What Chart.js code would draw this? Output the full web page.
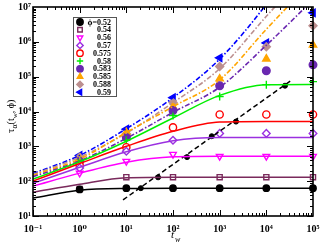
<!DOCTYPE html>
<html>
<head>
<meta charset="utf-8">
<script src="https://cdn.jsdelivr.net/npm/chart.js@4/dist/chart.umd.min.js"></script>
<style>
html, body { margin: 0; padding: 0; background: #fff; }
</style>
</head>
<body>
<canvas id="mychart" width="321" height="246"></canvas>
<script>
// measured tau_alpha at each waiting time
let twPts = [1, 10, 100, 1000, 10000, 100000];
let tau052 = [58, 63, 63, 63, 63, 63];
let tau054 = [60, 130, 130, 130, 130, 130];
let tau056 = [170, 372, 590, 520, 520, 520];
let tau057 = [240, 720, 1490, 2350, 2350, 2350];
let tau0575 = [285, 940, 3500, 8200, 8200, 8200];
let tau058 = [400, 1500, 7700, 27000, 59000, 72000];
let tau0583 = [370, 1800, 10700, 55000, 148000, 219000];
let tau0585 = [430, 2500, 13800, 87000, 324000, 813000];
let tau0588 = [490, 2300, 18000, 195000, 724000, 2900000];
let tau059 = [550, 3100, 25000, 347000, 933000, 6800000];

// solid fit curves
let fitTw = [0.1, 1, 10, 100, 1000, 10000, 100000];
let fit052 = [33, 55, 62, 63, 63, 63, 63];
let fit054 = [48, 82, 125, 130, 130, 130, 130];
let fit056 = [72, 170, 350, 500, 520, 520, 520];
let fit057 = [87, 250, 700, 1450, 1800, 1800, 1800];
let fit0575 = [100, 320, 1000, 2700, 5000, 5200, 5200];
let fit058 = [115, 360, 1400, 6500, 29000, 59000, 60000];

// dash-dot curves (they leave the frame at the top)
let ddTw = [0.1, 1, 10, 100, 1000, 10000, 100000];
let dd0583 = [135, 380, 1700, 9500, 50000, 800000, 16000000];
let dd0585 = [148, 430, 2500, 13800, 81000, 2300000, 60000000];
let dd0588 = [155, 490, 2400, 18000, 170000, 5400000, 160000000];
let dd059 = [165, 550, 3200, 25000, 320000, 12000000, 1000000000];

// crossover line and its markers
let crossTw = [8.5, 35500];
let crossTau = [29, 81000];
let markTw = [20.4, 47.9, 200, 676, 2240, 25100];
let markTau = [63, 129, 490, 1950, 5130, 55000];

let phis = ['\u03d5=0.52', '0.54', '0.56', '0.57', '0.575', '0.58', '0.583', '0.585', '0.588', '0.59'];
let colors = ['#000000', '#7a2a5c', '#ff00ff', '#9b30e0', '#ff0000', '#00ee00', '#6a28b0', '#ffa500', '#bc8f8f', '#0000ff'];

let xDecades = [0.1, 1, 10, 100, 1000, 10000, 100000];
let yDecades = [10, 100, 1000, 10000, 100000, 1000000, 10000000];

let sup = { '-': '\u207b', '0': '\u2070', '1': '\u00b9', '2': '\u00b2', '3': '\u00b3', '4': '\u2074', '5': '\u2075', '6': '\u2076', '7': '\u2077' };
function powLabel(v) {
  let e = String(Math.round(Math.log10(v)));
  return '10' + e.split('').map(c => sup[c]).join('');
}

let markerSets = [tau052, tau054, tau056, tau057, tau0575, tau058, tau0583, tau0585, tau0588, tau059];
let styles = [
  { pointStyle: 'circle', radius: 3.2, fill: true },
  { pointStyle: 'rect', radius: 3.6, fill: false },
  { pointStyle: 'triangle', radius: 3.8, rotation: 180, fill: false },
  { pointStyle: 'rectRot', radius: 3.8, fill: false },
  { pointStyle: 'circle', radius: 3.6, fill: false },
  { pointStyle: 'cross', radius: 4, fill: false },
  { pointStyle: 'circle', radius: 3.8, fill: true },
  { pointStyle: 'triangle', radius: 4.2, fill: true },
  { pointStyle: 'rectRot', radius: 4, fill: true },
  { pointStyle: 'triangle', radius: 4.2, rotation: -90, fill: true }
];

function pairs(xs, ys) { return xs.map((x, i) => ({ x: x, y: ys[i] })); }

let datasets = [];
let fits = [fit052, fit054, fit056, fit057, fit0575, fit058];
fits.forEach((f, i) => {
  datasets.push({ data: pairs(fitTw, f), borderColor: colors[i], borderWidth: 1.5, pointRadius: 0, showLine: true, cubicInterpolationMode: 'monotone' });
});
let dds = [dd0583, dd0585, dd0588, dd059];
dds.forEach((f, i) => {
  datasets.push({ data: pairs(ddTw, f), borderColor: colors[6 + i], borderWidth: 1.6, borderDash: [5, 2, 1.5, 2], pointRadius: 0, showLine: true, cubicInterpolationMode: 'monotone' });
});
datasets.push({ data: pairs(crossTw, crossTau), borderColor: '#000', borderWidth: 1.5, borderDash: [5, 3], pointRadius: 0, showLine: true });
datasets.push({ data: pairs(markTw, markTau), showLine: false, pointStyle: 'circle', pointRadius: 2.5, pointBackgroundColor: '#000', pointBorderColor: '#000', clip: false });
markerSets.forEach((m, i) => {
  let s = styles[i];
  datasets.push({
    data: pairs(twPts, m), showLine: false, clip: false,
    pointStyle: s.pointStyle, pointRadius: s.radius, pointRotation: s.rotation || 0,
    pointBackgroundColor: s.fill ? colors[i] : '#ffffff', pointBorderColor: colors[i], pointBorderWidth: 1.4
  });
});

let serif = "'Liberation Serif', 'DejaVu Serif', serif";

const decor = {
  id: 'decor',
  afterDraw(chart) {
    let ctx = chart.ctx, a = chart.chartArea, xs = chart.scales.x, ys = chart.scales.y;
    ctx.save();
    ctx.strokeStyle = '#000';
    ctx.lineWidth = 1;
    // inward ticks on all sides
    for (let d = -1; d < 5; d++) {
      for (let m = 1; m < 10; m++) {
        let px = Math.round(xs.getPixelForValue(m * Math.pow(10, d))) + 0.5;
        let len = m === 1 ? 6 : 3;
        ctx.beginPath();
        ctx.moveTo(px, a.bottom); ctx.lineTo(px, a.bottom - len);
        ctx.moveTo(px, a.top); ctx.lineTo(px, a.top + len);
        ctx.stroke();
      }
    }
    for (let d = 1; d < 7; d++) {
      for (let m = 1; m < 10; m++) {
        let py = Math.round(ys.getPixelForValue(m * Math.pow(10, d))) + 0.5;
        let len = m === 1 ? 6 : 3;
        ctx.beginPath();
        ctx.moveTo(a.left, py); ctx.lineTo(a.left + len, py);
        ctx.moveTo(a.right, py); ctx.lineTo(a.right - len, py);
        ctx.stroke();
      }
    }
    ctx.lineWidth = 1.6;
    ctx.strokeRect(a.left, a.top, a.right - a.left, a.bottom - a.top);

    // legend
    let bx = 73, by = 17, bw = 43, bh = 79;
    ctx.fillStyle = '#fff';
    ctx.fillRect(bx, by, bw, bh);
    ctx.strokeStyle = '#555';
    ctx.lineWidth = 1;
    ctx.strokeRect(bx + 0.5, by + 0.5, bw, bh);
    ctx.font = 'bold 8px ' + serif;
    ctx.textBaseline = 'middle';
    phis.forEach((p, i) => {
      let y = by + 5 + i * 7.8;
      let s = styles[i];
      ctx.fillStyle = s.fill ? colors[i] : '#fff';
      ctx.strokeStyle = colors[i];
      ctx.lineWidth = 1.4;
      Chart.helpers.drawPoint(ctx, { pointStyle: s.pointStyle, radius: 3.2, rotation: s.rotation || 0, borderWidth: 1.4 }, 80, y);
      ctx.fillStyle = '#000';
      ctx.textAlign = 'right';
      ctx.fillText(p, 111, y + 0.5);
    });

    // axis titles
    ctx.fillStyle = '#000';
    ctx.textAlign = 'left';
    ctx.textBaseline = 'alphabetic';
    ctx.font = 'italic 11px ' + serif;
    ctx.fillText('t', 171, 238);
    ctx.font = 'italic 8px ' + serif;
    ctx.fillText('w', 175, 242);

    ctx.translate(14, 133);
    ctx.rotate(-Math.PI / 2);
    let x = 0;
    let parts = [['\u03c4', 11, 0], ['\u03b1', 8, 3], ['(', 10, 0], ['t', 10, 0], ['w', 7, 3], [', \u03d5)', 10, 0]];
    parts.forEach(p => {
      ctx.font = p[1] + 'px ' + serif;
      ctx.fillText(p[0], x, p[2]);
      x += ctx.measureText(p[0]).width;
    });
    ctx.restore();
  }
};

let mychart = document.getElementById('mychart').getContext('2d');
let obj = new Chart(mychart, {
  type: 'scatter',
  data: { datasets: datasets },
  options: {
    responsive: false,
    animation: false,
    layout: { padding: { top: 7, right: 8, left: 0, bottom: 0 } },
    plugins: { legend: { display: false }, tooltip: { enabled: false } },
    scales: {
      x: {
        type: 'logarithmic', min: 0.1, max: 100000,
        grid: { display: false, drawTicks: false },
        border: { display: false },
        afterBuildTicks: s => { s.ticks = xDecades.map(v => ({ value: v })); },
        afterFit: s => { s.height = 30; s.paddingLeft = 0; s.paddingRight = 0; },
        ticks: { padding: 7, color: '#000', font: { family: serif, size: 10, weight: 'bold' }, maxRotation: 0, autoSkip: false, callback: v => powLabel(v) }
      },
      y: {
        type: 'logarithmic', min: 10, max: 10000000,
        grid: { display: false, drawTicks: false },
        border: { display: false },
        afterBuildTicks: s => { s.ticks = yDecades.map(v => ({ value: v })); },
        afterFit: s => { s.width = 33; s.paddingTop = 0; s.paddingBottom = 0; },
        ticks: { padding: 2, color: '#000', font: { family: serif, size: 10, weight: 'bold' }, autoSkip: false, callback: v => powLabel(v) }
      }
    }
  },
  plugins: [decor]
});
</script>
</body>
</html>
